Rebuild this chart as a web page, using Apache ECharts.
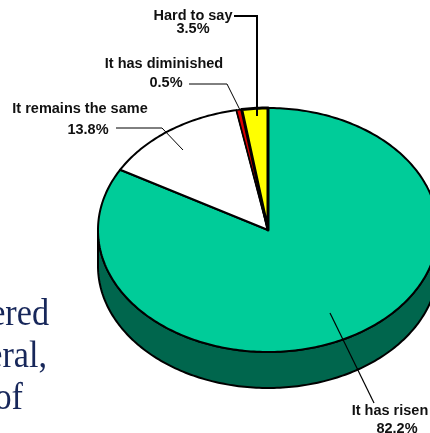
<!DOCTYPE html>
<html><head><meta charset="utf-8">
<style>html,body{margin:0;padding:0;background:#fff}#c{width:430px;height:433px}</style>
<script src="https://cdn.jsdelivr.net/npm/echarts@6/dist/echarts.min.js"></script></head>
<body><div id="c"></div>
<script>
const categories = ['It has risen', 'It remains the same', 'It has diminished', 'Hard to say'];
const shares = [82.2, 13.8, 0.5, 3.5];
const topColors = ['#00CC99', '#FFFFFF', '#DD0000', '#FFFF00'];
const wallColors = ['#00664D', '#808080', '#660000', '#808000'];
const outlineWidths = [2, 2, 1.5, 3];
const backgroundLines = ['ered', 'eral,', 'of'];

const cx = 268, cy = 230, rx = 170, ry = 122, depth = 36;
const labelBoxes = [
  {name:[390,411], value:[397,429]},
  {name:[80,109], value:[88,130]},
  {name:[164,64], value:[166,83]},
  {name:[193,16], value:[193,29]}
];
const leaders = [
  {pts:[[330,313],[374,403]], w:1.2},
  {pts:[[116,128],[162,128],[183,150]], w:1},
  {pts:[[189,84],[227,84],[240,110]], w:1},
  {pts:[[234,16],[257,16],[257,116]], w:2}
];
const textPlaces = [[49,326],[47,368],[23,410]];
// The tilted pie foreshortens the far side, so far-side boundaries sit a little closer to 12 o'clock.
const drawnAngle = d => d + 3.7 * Math.max(0, Math.min(1, (360 - d) / 8)) * (d > 180 ? 1 : 0);
const pt = (deg, dy) => {
  const a = deg * Math.PI / 180;
  return [cx + rx * Math.sin(a), cy - ry * Math.cos(a) + (dy || 0)];
};
const arc = (from, to, dy) => {
  const out = [], n = Math.max(2, Math.ceil(Math.abs(to - from)));
  for (let i = 0; i <= n; i++) out.push(pt(from + (to - from) * i / n, dy));
  return out;
};
const total = shares.reduce((a, b) => a + b, 0);
const startAngles = [];
shares.reduce((acc, v, i) => { startAngles[i] = acc; return acc + v; }, 0);

function renderItem(params, api) {
  const i = params.dataIndex, v = api.value(0);
  const from = drawnAngle(startAngles[i] / total * 360), to = drawnAngle((startAngles[i] + v) / total * 360);
  const children = [];
  const wFrom = Math.max(from, 90), wTo = Math.min(to, 270);
  if (wTo > wFrom) {
    children.push({type:'polygon', shape:{points:arc(wFrom, wTo, 0).concat(arc(wTo, wFrom, depth))},
      style:{fill:wallColors[i], stroke:'#000', lineWidth:2, lineJoin:'round'}});
  }
  children.push({type:'polygon', shape:{points:[[cx,cy]].concat(arc(from, to, 0))},
    style:{fill:topColors[i], stroke:'#000', lineWidth:outlineWidths[i], lineJoin:'round'}});
  return {type:'group', children};
}
function renderLabels(params, api) {
  const i = params.dataIndex, v = api.value(0), b = labelBoxes[i], l = leaders[i];
  const font = 'bold 14.5px "Liberation Sans", Arial, sans-serif';
  const txt = (s, p) => ({type:'text', style:{text:s, x:p[0], y:p[1], align:'center', verticalAlign:'middle', font, fill:'#111'}});
  return {type:'group', children:[
    {type:'polyline', shape:{points:l.pts}, style:{fill:null, stroke:'#000', lineWidth:l.w}},
    txt(categories[i], b.name), txt(v.toFixed(1) + '%', b.value)
  ]};
}
const chart = echarts.init(document.getElementById('c'), null, {renderer:'canvas'});
chart.setOption({
  animation:false,
  graphic: backgroundLines.map((s, i) => ({type:'text', z:0, x:textPlaces[i][0], y:textPlaces[i][1]-30.4, scaleX:0.9, style:{
    text:s, x:0, y:0, align:'right', verticalAlign:'top',
    font:'38px "Liberation Serif", serif', fill:'#17275A'}})),
  series:[
    {type:'custom', coordinateSystem:'none', clip:false, silent:true, z:2, data:shares.map(v=>[v]), renderItem},
    {type:'custom', coordinateSystem:'none', clip:false, silent:true, z:3, data:shares.map(v=>[v]), renderItem:renderLabels}
  ]
});
</script></body></html>
